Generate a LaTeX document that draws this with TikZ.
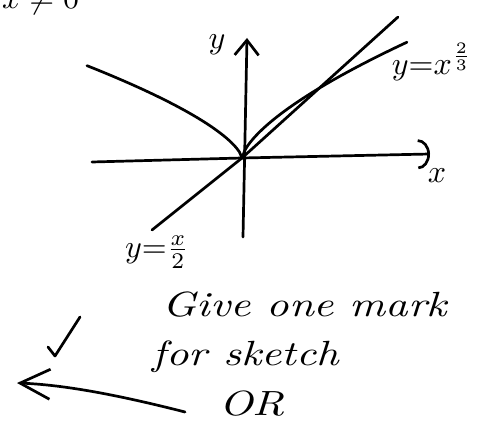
\documentclass[tikz,border=0pt]{standalone}
\usepackage{amsmath}
\usepackage{graphicx}
\usetikzlibrary{arrows.meta}
\newcommand{\handtxt}[1]{\scalebox{4.4}[3.5]{\itshape #1}}
\newcommand{\labtxt}[1]{\scalebox{3.2}{#1}}
\begin{document}
\begin{tikzpicture}[x=1pt,y=-1pt,
pen/.style={line width=2.7pt,line cap=round,line join=round},
lab/.style={inner sep=0pt}]
\useasboundingbox (0,0) rectangle (483,430);
\clip (0,0) rectangle (483,430);
% axes
\coordinate (O) at (242,158);
\coordinate (yb) at (243,237); \coordinate (yt) at (247,38);
\coordinate (xl) at (92,162); \coordinate (xr) at (430,154);
\draw[pen,-{Straight Barb[length=15pt,width=24pt]}] (yb) -- (yt);
\draw[pen,-{Arc Barb[length=12pt,width=30pt]}] (xl) -- (O) -- (xr);
\node[lab] (ylab) at (217,45) {\labtxt{$y$}};
\node[lab] (xlab) at (437,176) {\labtxt{$x$}};
% curve and line
\draw[pen] (O) -- plot[domain=0.01:165,samples=60] ({242+\x},{158-3.85*\x^(2/3)});
\draw[pen] (O) -- plot[domain=0.01:155,samples=60] ({242-\x},{158-3.2*\x^(2/3)});
\coordinate (lo) at (152,230); \coordinate (hi) at (398,17);
\draw[pen] (lo) -- (O) -- (hi);
\node[lab] (clab) at (432,62) {\labtxt{$y{=}x^{\frac{2}{3}}$}};
\node[lab] (llab) at (157,252) {\labtxt{$y{=}\frac{x}{2}$}};
\node[lab,anchor=base west] (cond) at (2,9) {\labtxt{$x\neq 0$}};
% marking notes
\node[lab] (give) at (305,305) {\handtxt{Give one mark}};
\node[lab] (sk) at (246,357) {\handtxt{for sketch}};
\node[lab] (or) at (252,404) {\handtxt{OR}};
\draw[pen] (48,347) -- (55,356) -- (80,317);
\coordinate (as) at (185,412); \coordinate (at) at (17,383);
\draw[pen,-{Straight Barb[length=30pt,width=30pt]}] (as) .. controls (130,398) and (70,385) .. (at);
\end{tikzpicture}
\end{document}
